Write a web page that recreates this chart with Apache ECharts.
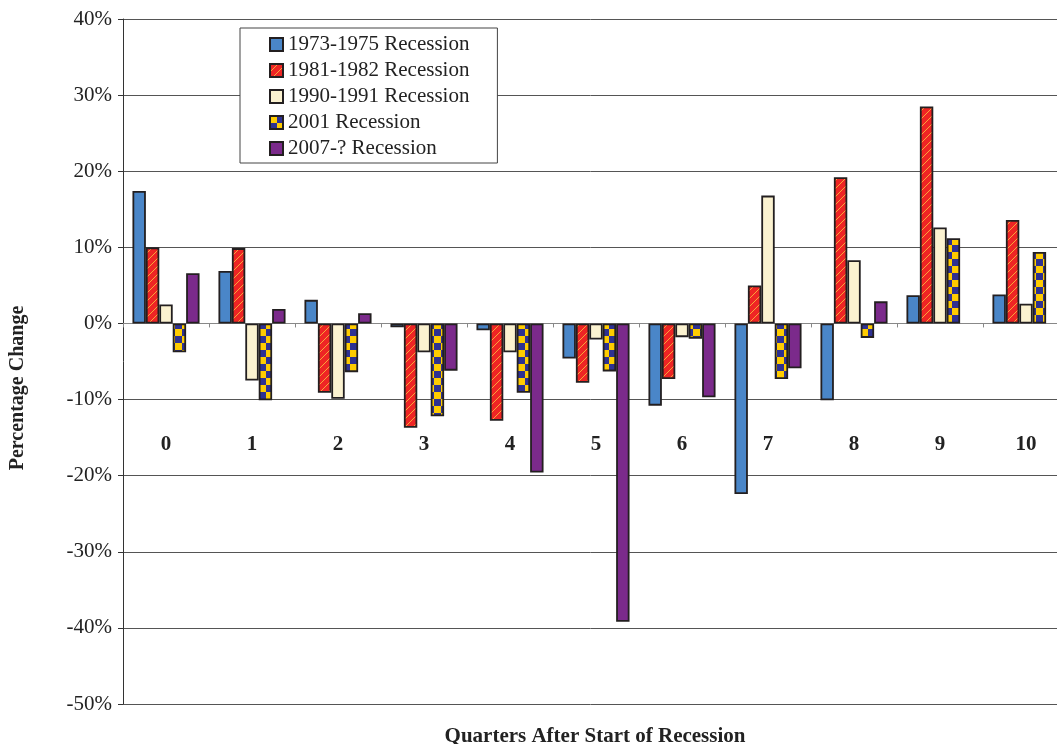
<!DOCTYPE html>
<html>
<head>
<meta charset="utf-8">
<script src="https://cdn.jsdelivr.net/npm/echarts@6/dist/echarts.min.js"></script>
<style>html,body{margin:0;padding:0;background:#fff}#c{width:1057px;height:744px}</style>
</head>
<body>
<div id="c"></div>
<script>
const categories = ['0','1','2','3','4','5','6','7','8','9','10'];
const seriesNames = ['1973-1975 Recession','1981-1982 Recession','1990-1991 Recession','2001 Recession','2007-? Recession'];
const r1973 = [17.4, 6.9, 3.1, -0.5, -0.9, -4.6, -10.8, -22.4, -10.1, 3.7, 3.8];
const r1981 = [10.0, 9.9, -9.1, -13.7, -12.8, -7.8, -7.3, 5.0, 19.2, 28.5, 13.6];
const r1990 = [2.5, -7.5, -9.9, -3.8, -3.8, -2.1, -1.8, 16.8, 8.3, 12.6, 2.6];
const r2001 = [-3.8, -10.1, -6.4, -12.2, -9.1, -6.3, -2.0, -7.3, -1.9, 11.2, 9.4];
const r2007 = [6.6, 1.9, 1.35, -6.2, -19.6, -39.2, -9.7, -5.9, 2.9, null, null];
const yTicks = [-50, -40, -30, -20, -10, 0, 10, 20, 30, 40];

function stripePattern() {
  const s = 8, c = document.createElement('canvas');
  c.width = s; c.height = s;
  const g = c.getContext('2d');
  g.fillStyle = '#ee2524'; g.fillRect(0, 0, s, s);
  g.strokeStyle = '#f9a43a'; g.lineWidth = 1;
  g.beginPath();
  for (let k = -s; k <= 2 * s; k += s) { g.moveTo(k, s); g.lineTo(k + s, 0); }
  g.stroke();
  return { image: c, repeat: 'repeat' };
}
function checkerPattern() {
  const q = 7, c = document.createElement('canvas');
  c.width = 2 * q; c.height = 2 * q;
  const g = c.getContext('2d');
  g.fillStyle = '#2e3192'; g.fillRect(0, 0, 2 * q, 2 * q);
  g.fillStyle = '#ffcc00'; g.fillRect(0, 0, q, q); g.fillRect(q, q, q, q);
  return { image: c, repeat: 'repeat' };
}

const fills = ['#4a86c8', stripePattern(), '#fbf2d0', checkerPattern(), '#7b2a8b'];
const dataSets = [r1973, r1981, r1990, r2001, r2007];
const serif = '"Liberation Serif", "DejaVu Serif", serif';

const chart = echarts.init(document.getElementById('c'), null, { renderer: 'canvas' });
chart.setOption({
  animation: false,
  backgroundColor: '#fff',
  grid: { left: 123, top: 19, bottom: 40, right: -12, containLabel: false, outerBoundsMode: 'none' },
  legend: {
    orient: 'vertical', left: 240, top: 28,
    padding: [6, 28, 4, 29],
    icon: 'rect',
    itemWidth: 13, itemHeight: 13, itemGap: 5,
    backgroundColor: '#fff', borderColor: '#444', borderWidth: 1,
    textStyle: { fontFamily: serif, fontSize: 21, color: '#222' },
    data: seriesNames
  },
  title: {
    text: 'Quarters After Start of Recession',
    left: 590, top: 721, textAlign: 'center',
    textStyle: { fontFamily: serif, fontSize: 21, fontWeight: 'bold', color: '#222' }
  },
  graphic: [{
    type: 'text', x: 18, y: 388, rotation: Math.PI / 2,
    style: { text: 'Percentage Change', font: 'bold 20px ' + serif, fill: '#222', align: 'center', verticalAlign: 'middle' }
  }],
  xAxis: {
    type: 'category', data: categories,
    axisLine: { onZero: true, lineStyle: { color: '#888', width: 1 } },
    axisTick: { show: true, length: 4, inside: false, lineStyle: { color: '#888' } },
    axisLabel: { inside: true, margin: 249, fontFamily: serif, fontSize: 21, fontWeight: 'bold', color: '#222' },
    splitLine: { show: false }
  },
  yAxis: {
    type: 'value', min: -50, max: 40, interval: 10,
    axisLine: { show: true, lineStyle: { color: '#333', width: 1 } },
    axisTick: { show: true, length: 5, lineStyle: { color: '#333' } },
    axisLabel: { margin: 11, fontFamily: serif, fontSize: 21, color: '#222', formatter: v => v + '%' },
    splitLine: { show: true, lineStyle: { color: '#555', width: 1 } }
  },
  series: seriesNames.map((n, i) => ({
    name: n, type: 'bar', data: dataSets[i],
    barGap: '0%', barCategoryGap: '22%',
    itemStyle: { color: fills[i], borderColor: '#231f20', borderWidth: 1.8 }
  }))
});
</script>
</body>
</html>
